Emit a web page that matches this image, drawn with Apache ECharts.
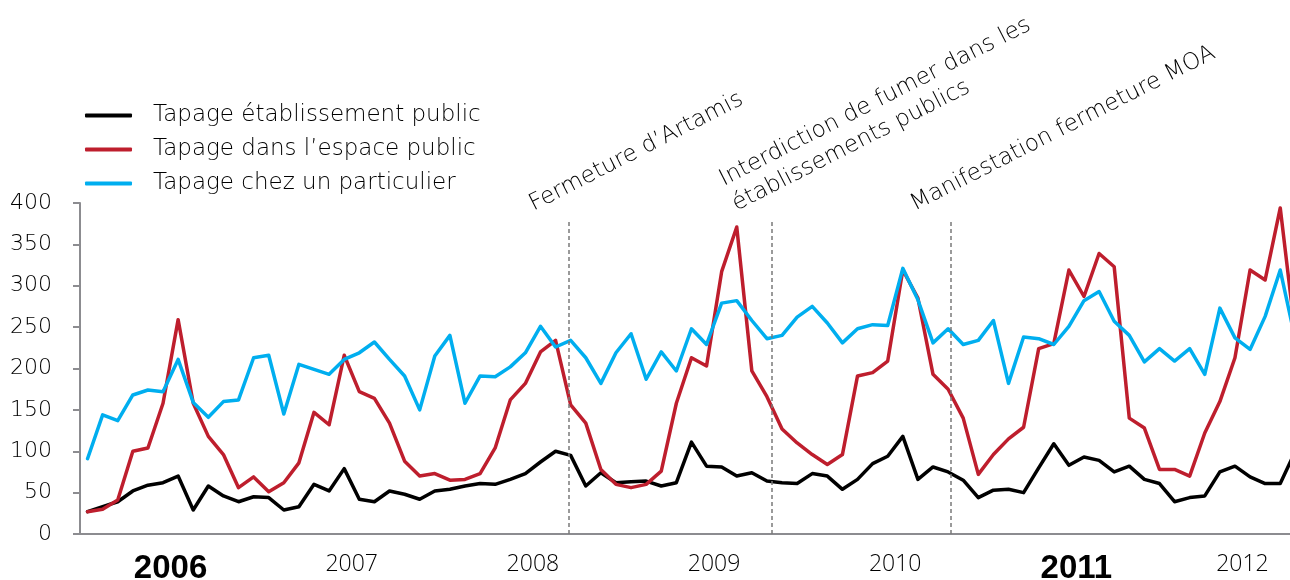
<!DOCTYPE html>
<html>
<head>
<meta charset="utf-8">
<title>Tapages</title>
<script src="https://cdn.jsdelivr.net/npm/echarts@6/dist/echarts.min.js"></script>
<style>
    html, body { margin: 0; padding: 0; background: #fff; overflow: hidden; }
    #chart { width: 1290px; height: 580px; }
</style>
</head>
<body>
<div id="chart"></div>
<script>
// monthly counts, Jan 2006 -> Oct 2012 (last months run past the right edge)
const years = ['2006', '2007', '2008', '2009', '2010', '2011', '2012'];
const boldYears = ['2006', '2011'];
const monthCount = 82;

const etablissementPublic = [
    27, 33, 39, 52, 59, 62, 70, 29, 58, 46, 39, 45,
    44, 29, 33, 60, 52, 79, 42, 39, 52, 48, 42, 52,
    54, 58, 61, 60, 66, 73, 87, 100, 95, 58, 74, 62,
    63, 64, 58, 62, 111, 82, 81, 70, 74, 64, 62, 61,
    73, 70, 54, 66, 85, 94, 118, 66, 81, 75, 65, 44,
    53, 54, 50, 80, 109, 83, 93, 89, 75, 82, 66, 61,
    39, 44, 46, 75, 82, 69, 61, 61, 100, 75
];
const espacePublic = [
    27, 30, 41, 100, 104, 158, 259, 158, 118, 96, 56, 69,
    51, 62, 86, 147, 132, 216, 172, 164, 134, 88, 70, 73,
    65, 66, 73, 104, 162, 182, 220, 234, 156, 134, 78, 60,
    56, 60, 76, 158, 213, 203, 317, 371, 197, 166, 127, 110,
    96, 84, 96, 191, 195, 209, 319, 285, 193, 175, 140, 72,
    96, 115, 129, 224, 230, 319, 287, 339, 323, 140, 128, 78,
    78, 70, 122, 160, 213, 319, 307, 394, 240, 180
];
const chezParticulier = [
    91, 144, 137, 168, 174, 172, 211, 159, 141, 160, 162, 213,
    216, 145, 205, 199, 193, 211, 219, 232, 211, 191, 150, 215,
    240, 158, 191, 190, 202, 219, 251, 226, 234, 213, 182, 219,
    242, 187, 220, 197, 248, 229, 279, 282, 258, 236, 240, 262,
    275, 255, 231, 248, 253, 252, 321, 283, 231, 248, 229, 234,
    258, 182, 238, 236, 229, 251, 282, 293, 257, 240, 208, 224,
    209, 224, 193, 273, 237, 223, 263, 319, 235, 230
];

// events, position in months from Jan 2006
const events = [
    { month: 32.4, label: 'Fermeture d\u2019Artamis' },
    { month: 45.85, label: 'Interdiction de fumer dans les\n\u00e9tablissements publics' },
    { month: 57.65, label: 'Manifestation fermeture MOA' }
];

const months = [];
for (let i = 0; i < monthCount; i++) {
    let y = years[Math.floor(i / 12)];
    months.push(y + '-' + String(i % 12 + 1).padStart(2, '0'));
}

// year label sits in the middle of the months shown for that year
const yearLabelIndex = {};
years.forEach((y, k) => {
    let s = k * 12;
    let e = Math.min(s + 12, monthCount);
    yearLabelIndex[(s + e) / 2 - 1] = y;
});

const font = '"DejaVu Sans", "Open Sans", sans-serif';
const digitFont = '"Open Sans", "Liberation Sans", sans-serif';
const grey = '#8c8c90';
const ink = '#000000';

let chart = echarts.init(document.getElementById('chart'));

let option = {
    animation: false,
    // plot runs past the right edge of the picture, as in the original
    grid: { left: 80, top: 203, width: 1238, height: 331, outerBoundsMode: 'none', containLabel: false },
    legend: {
        orient: 'vertical',
        left: 80,
        top: 99,
        icon: 'roundRect',
        itemWidth: 47,
        itemHeight: 4,
        itemGap: 11,
        data: ['Tapage établissement public', 'Tapage dans l\u2019espace public', 'Tapage chez un particulier'],
        textStyle: { fontFamily: font, fontWeight: 300, fontSize: 23, color: ink, lineHeight: 22, padding: [0, 0, 0, 16] }
    },
    xAxis: [
        {
            type: 'category',
            data: months,
            boundaryGap: true,
            axisLine: { lineStyle: { color: grey, width: 2 } },
            axisTick: { interval: (i) => i % 12 === 0, length: 6, lineStyle: { color: grey, width: 2 } },
            axisLabel: {
                interval: (i) => yearLabelIndex[i] !== undefined,
                margin: 15,
                formatter: (v, i) => {
                    let y = yearLabelIndex[i];
                    return boldYears.includes(y) ? '{b|' + y + '}' : '{r|' + y + '}';
                },
                rich: {
                    b: { fontFamily: '"Liberation Sans", sans-serif', fontWeight: 'bold', fontSize: 33, lineHeight: 40, color: '#000', padding: [0, 0, 0, 15] },
                    r: { fontFamily: digitFont, fontWeight: 300, fontSize: 23, lineHeight: 30, color: ink, padding: [0, 0, 0, 15] }
                }
            }
        },
        { type: 'value', min: 0, max: monthCount, show: false }
    ],
    yAxis: {
        type: 'value',
        min: 0,
        max: 400,
        interval: 50,
        splitLine: { show: false },
        axisLine: { show: true, lineStyle: { color: grey, width: 2 } },
        axisTick: { show: true, length: 7, lineStyle: { color: grey, width: 2 } },
        axisLabel: { margin: 28, fontFamily: font, fontWeight: 300, fontSize: 22, color: ink }
    },
    series: [
        {
            name: 'Tapage établissement public',
            type: 'line',
            data: etablissementPublic,
            showSymbol: false,
            color: '#000000',
            lineStyle: { width: 3.5, join: 'round', cap: 'round' }
        },
        {
            name: 'Tapage dans l\u2019espace public',
            type: 'line',
            data: espacePublic,
            showSymbol: false,
            color: '#be1e2d',
            lineStyle: { width: 3.5, join: 'round', cap: 'round' }
        },
        {
            name: 'Tapage chez un particulier',
            type: 'line',
            data: chezParticulier,
            showSymbol: false,
            color: '#00aeef',
            lineStyle: { width: 3.5, join: 'round', cap: 'round' }
        },
        {
            name: 'events',
            type: 'line',
            xAxisIndex: 1,
            data: [],
            markLine: {
                silent: true,
                symbol: 'none',
                label: { show: false },
                lineStyle: { color: '#7a7a7a', type: [4, 3], width: 1.5 },
                data: events.map(e => [{ coord: [e.month, 0] }, { coord: [e.month, 380] }])
            }
        }
    ]
};

chart.setOption(option);

// rotated event labels, anchored next to the top of each dashed line
let labels = events.map(e => {
    let x = chart.convertToPixel({ xAxisIndex: 1 }, e.month);
    return {
        type: 'text',
        x: x - 32,
        y: 218,
        rotation: 27 * Math.PI / 180,
        style: {
            text: e.label,
            fontFamily: font,
            fontWeight: 300,
            fontSize: 23,
            lineHeight: 28,
            fill: ink,
            align: 'left',
            verticalAlign: 'bottom'
        }
    };
});
chart.setOption({ graphic: labels });
</script>
</body>
</html>
